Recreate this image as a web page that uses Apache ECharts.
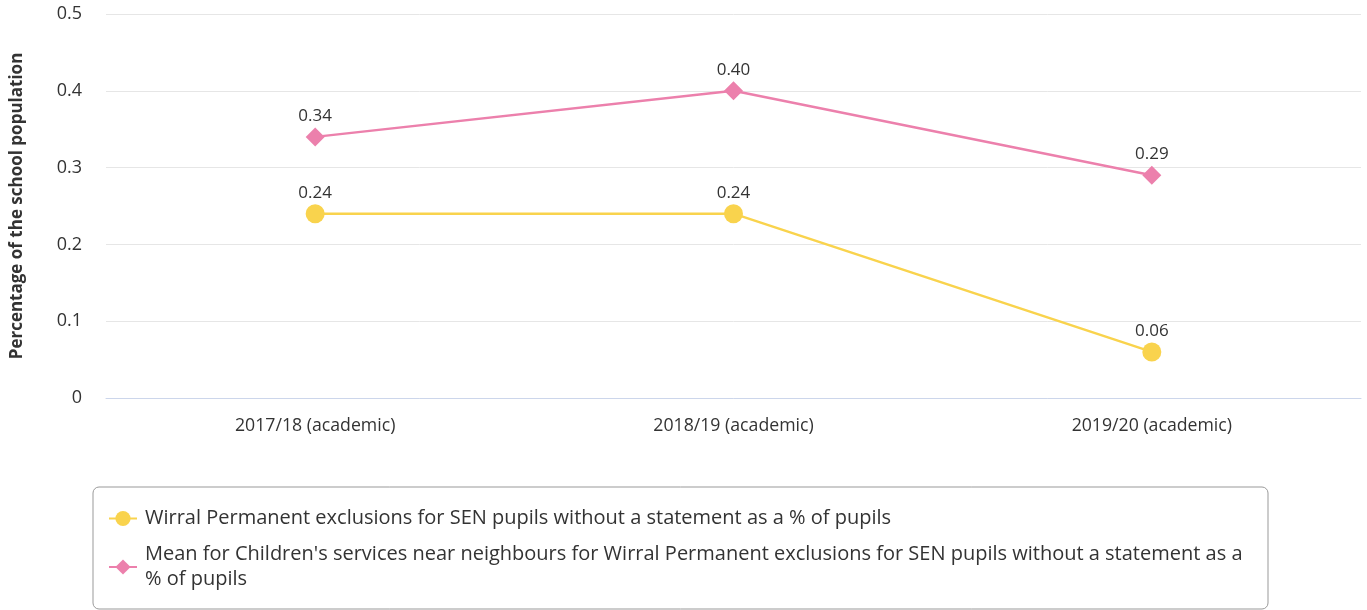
<!DOCTYPE html>
<html>
<head>
<meta charset="utf-8">
<script src="https://cdn.jsdelivr.net/npm/echarts@6/dist/echarts.min.js"></script>
<style>
  html, body { margin: 0; padding: 0; background: #fff; overflow: hidden; }
  #chart { width: 1367px; height: 610px; }
</style>
</head>
<body>
<div id="chart"></div>
<script>
// Academic years on the x axis
const categories = ['2017/18 (academic)', '2018/19 (academic)', '2019/20 (academic)'];
// Wirral permanent exclusions (SEN, no statement) as % of pupils
const wirralValues = [0.24, 0.24, 0.06];
// Near-neighbour mean for the same measure
const neighbourValues = [0.34, 0.40, 0.29];
const wirralName = 'Wirral Permanent exclusions for SEN pupils without a statement as a % of pupils';
const neighbourName = "Mean for Children's services near neighbours for Wirral Permanent exclusions for SEN pupils without a statement as a % of pupils";
const yAxisTitle = 'Percentage of the school population';

const FONT = '"Open Sans", "Noto Sans", sans-serif';
const chart = echarts.init(document.getElementById('chart'), null, { renderer: 'canvas' });

const labelStyle = {
  show: true,
  position: 'top',
  distance: 3,
  color: '#333333',
  fontFamily: FONT,
  fontSize: 17,
  formatter: p => p.value.toFixed(2)
};

chart.setOption({
  animation: false,
  grid: {
    left: 106, right: 6, top: 14, bottom: 212,
    containLabel: false,
    outerBoundsMode: 'none'
  },
  legend: {
    orient: 'vertical',
    left: 93,
    top: 487,
    height: 300,
    padding: [19, 13, 17, 15],
    itemGap: 11,
    itemWidth: 28,
    itemHeight: 19,
    borderColor: '#999999',
    borderWidth: 1,
    borderRadius: 6,
    textStyle: {
      fontFamily: FONT,
      fontSize: 20,
      color: '#333333',
      width: 1110,
      overflow: 'break',
      lineHeight: 25,
      padding: [0, 0, 0, 3]
    },
    data: [wirralName, neighbourName]
  },
  xAxis: {
    type: 'category',
    data: categories,
    boundaryGap: true,
    axisLine: { lineStyle: { color: '#ccd6eb', width: 1 } },
    axisTick: { show: false },
    axisLabel: { color: '#333333', fontFamily: FONT, fontSize: 17.7, margin: 19 }
  },
  yAxis: {
    type: 'value',
    min: 0,
    max: 0.5,
    interval: 0.1,
    name: yAxisTitle,
    nameLocation: 'middle',
    nameGap: 80,
    nameTextStyle: { fontFamily: FONT, fontSize: 17, fontWeight: 'bold', color: '#333333' },
    axisLine: { show: false },
    axisTick: { show: false },
    splitLine: { lineStyle: { color: '#e6e6e6', width: 1 } },
    axisLabel: {
      color: '#333333', fontFamily: FONT, fontSize: 18, margin: 24,
      formatter: v => (v === 0 ? '0' : v.toFixed(1))
    }
  },
  series: [
    {
      name: wirralName,
      type: 'line',
      data: wirralValues,
      symbol: 'circle',
      symbolSize: 19,
      lineStyle: { color: '#f9d34d', width: 2.5 },
      itemStyle: { color: '#f9d34d' },
      label: labelStyle,
      z: 3
    },
    {
      name: neighbourName,
      type: 'line',
      data: neighbourValues,
      symbol: 'diamond',
      symbolSize: 19,
      lineStyle: { color: '#ec80ac', width: 2.5 },
      itemStyle: { color: '#ec80ac' },
      label: labelStyle,
      z: 4
    }
  ]
});
</script>
</body>
</html>
